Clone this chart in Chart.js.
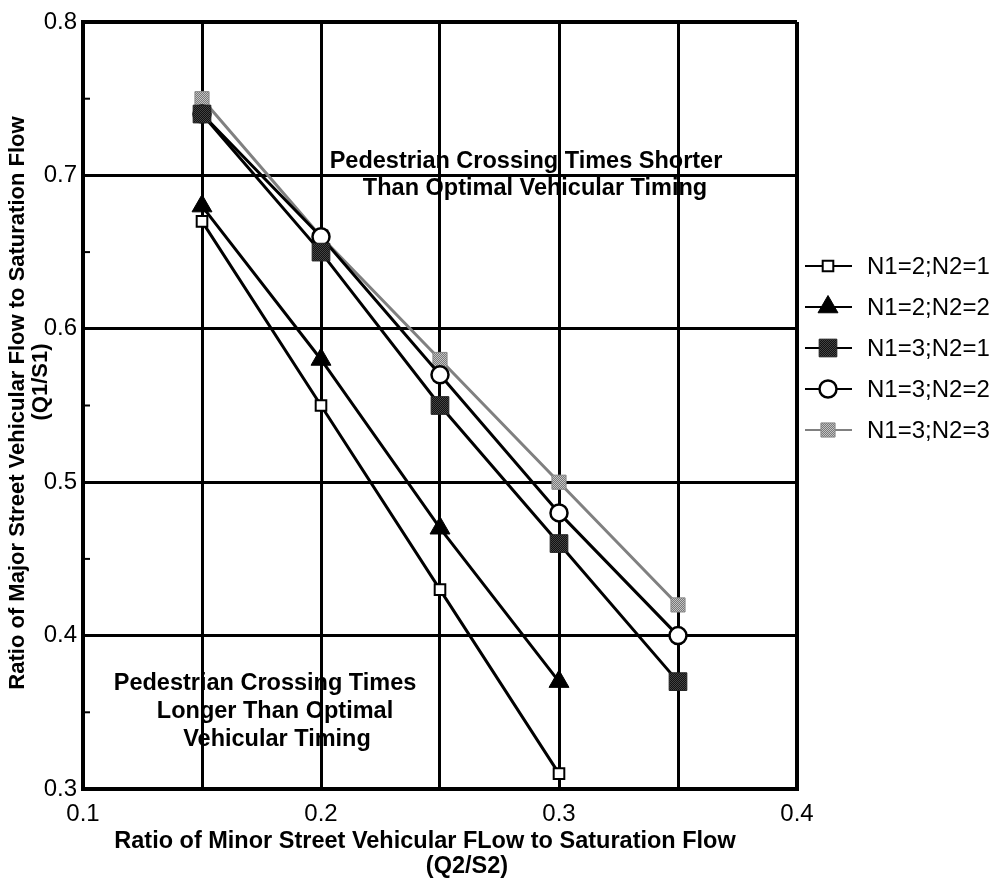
<!DOCTYPE html>
<html><head><meta charset="utf-8">
<script src="https://cdn.jsdelivr.net/npm/chart.js@4/dist/chart.umd.min.js"></script>
<style>html,body{margin:0;padding:0;background:#fff;} #wrap{width:997px;height:882px;}</style>
</head><body><div id="wrap"><canvas id="c" width="997" height="882"></canvas></div>
<script>
const xValues = [0.15, 0.20, 0.25, 0.30, 0.35];
const seriesLabels = ['N1=2;N2=1', 'N1=2;N2=2', 'N1=3;N2=1', 'N1=3;N2=2', 'N1=3;N2=3'];
const s_N1_2_N2_1 = [0.67, 0.55, 0.43, 0.31, null];
const s_N1_2_N2_2 = [0.68, 0.58, 0.47, 0.37, null];
const s_N1_3_N2_1 = [0.74, 0.65, 0.55, 0.46, 0.37];
const s_N1_3_N2_2 = [0.74, 0.66, 0.57, 0.48, 0.40];
const s_N1_3_N2_3 = [0.75, 0.66, 0.58, 0.50, 0.42];
const xTickLabels = ['0.1', '0.2', '0.3', '0.4'];
const yTickLabels = ['0.3', '0.4', '0.5', '0.6', '0.7', '0.8'];
const xTitle = ['Ratio of Minor Street Vehicular FLow to Saturation Flow', '(Q2/S2)'];
const yTitle = ['Ratio of Major Street Vehicular Flow to Saturation Flow', '(Q1/S1)'];
const noteUpper = ['Pedestrian Crossing Times Shorter', 'Than Optimal Vehicular Timing'];
const noteLower = ['Pedestrian Crossing Times', 'Longer Than Optimal', 'Vehicular Timing'];

const FONT = '"Liberation Sans", Arial, Helvetica, sans-serif';
Chart.defaults.font.family = FONT;
Chart.defaults.color = '#000';

const canvas = document.getElementById('c');
const mainCtx = canvas.getContext('2d');
function hatch(c1, c2) {
  const p = document.createElement('canvas');
  p.width = 2; p.height = 2;
  const g = p.getContext('2d');
  g.fillStyle = c1; g.fillRect(0, 0, 2, 2);
  g.fillStyle = c2; g.fillRect(0, 0, 1, 1); g.fillRect(1, 1, 1, 1);
  return mainCtx.createPattern(p, 'repeat');
}
const darkFill = hatch('#111', '#444');
const grayFill = hatch('#777', '#c4c4c4');

function pts(arr) {
  return xValues.map((x, i) => ({ x: x, y: arr[i] })).filter(p => p.y !== null);
}
const styles = [
  { line: '#000', lw: 3, ps: 'rect', r: 7.5, bg: '#fff', bc: '#000', bw: 2 },
  { line: '#000', lw: 3, ps: 'triangle', r: 11.5, bg: '#000', bc: '#000', bw: 1 },
  { line: '#000', lw: 3, ps: 'rect', r: 12.5, bg: darkFill, bc: '#222', bw: 1 },
  { line: '#000', lw: 3, ps: 'circle', r: 8.5, bg: '#fff', bc: '#000', bw: 2.5 },
  { line: '#808080', lw: 3, ps: 'rect', r: 10, bg: grayFill, bc: '#888', bw: 1 }
];
const series = [s_N1_2_N2_1, s_N1_2_N2_2, s_N1_3_N2_1, s_N1_3_N2_2, s_N1_3_N2_3];
const datasets = series.map((s, i) => ({
  label: seriesLabels[i],
  data: pts(s),
  borderColor: styles[i].line,
  borderWidth: styles[i].lw,
  pointStyle: styles[i].ps,
  pointRadius: styles[i].r,
  pointBackgroundColor: styles[i].bg,
  pointBorderColor: styles[i].bc,
  pointBorderWidth: styles[i].bw,
  showLine: true,
  tension: 0,
  fill: false
}));

const isMajor = v => Math.round(v * 100) % 10 === 0;
function labelFor(v, list) {
  if (!isMajor(v)) return '';
  const s = (Math.round(v * 10) / 10).toFixed(1);
  return list.indexOf(s) >= 0 ? s : '';
}

const BOLD = 'bold 23.5px ' + FONT;
const extras = {
  id: 'extras',
  afterDraw(chart) {
    const ctx = chart.ctx;
    const ys = chart.scales.y;
    const area = chart.chartArea;
    ctx.save();
    // minor inward ticks on left axis
    ctx.strokeStyle = '#000';
    ctx.lineWidth = 2;
    ys.ticks.forEach(t => {
      if (!isMajor(t.value)) {
        const y = ys.getPixelForValue(t.value);
        ctx.beginPath();
        ctx.moveTo(area.left, y);
        ctx.lineTo(area.left + 7, y);
        ctx.stroke();
      }
    });
    // axis titles
    ctx.fillStyle = '#000';
    ctx.textAlign = 'center';
    ctx.textBaseline = 'middle';
    ctx.font = BOLD;
    ctx.fillText(xTitle[0], 425, 842);
    ctx.fillText(xTitle[1], 467, 867);
    ctx.font = 'bold 22px ' + FONT;
    ctx.save();
    ctx.translate(18, 403);
    ctx.rotate(-Math.PI / 2);
    ctx.fillText(yTitle[0], 0, 0);
    ctx.restore();
    ctx.save();
    ctx.translate(41, 382);
    ctx.rotate(-Math.PI / 2);
    ctx.fillText(yTitle[1], 0, 0);
    ctx.restore();
    // annotations
    ctx.font = BOLD;
    ctx.fillText(noteUpper[0], 526, 162);
    ctx.fillText(noteUpper[1], 535, 189);
    ctx.fillText(noteLower[0], 265, 684);
    ctx.fillText(noteLower[1], 275, 712);
    ctx.fillText(noteLower[2], 277, 740);
    // legend
    ctx.textAlign = 'left';
    ctx.font = '24px ' + FONT;
    chart.data.datasets.forEach((ds, i) => {
      const y = 266 + 41 * i;
      ctx.strokeStyle = ds.borderColor;
      ctx.lineWidth = 2;
      ctx.beginPath();
      ctx.moveTo(805, y);
      ctx.lineTo(852, y);
      ctx.stroke();
      ctx.fillStyle = ds.pointBackgroundColor;
      ctx.strokeStyle = ds.pointBorderColor;
      ctx.lineWidth = ds.pointBorderWidth;
      Chart.helpers.drawPoint(ctx, {
        pointStyle: ds.pointStyle, radius: ds.pointRadius,
        rotation: 0, borderWidth: ds.pointBorderWidth
      }, 828, y);
      ctx.fillStyle = '#000';
      ctx.fillText(ds.label, 867, y + 1);
    });
    ctx.restore();
  }
};

new Chart(canvas, {
  type: 'scatter',
  data: { datasets: datasets },
  options: {
    responsive: false,
    animation: false,
    devicePixelRatio: 1,
    events: [],
    layout: { padding: { top: 22, right: 200, left: 0, bottom: 0 } },
    plugins: { legend: { display: false }, tooltip: { enabled: false } },
    scales: {
      x: {
        type: 'linear', min: 0.1, max: 0.4,
        ticks: {
          stepSize: 0.05, autoSkip: false, maxRotation: 0,
          font: { size: 24 }, color: '#000', padding: 11,
          callback: v => labelFor(v, xTickLabels)
        },
        grid: {
          color: '#000', drawTicks: false,
          lineWidth: c => (Math.abs(c.tick.value - 0.4) < 1e-6 ? 4 : 3)
        },
        border: { display: true, color: '#000', width: 4 },
        afterFit: s => { s.height = 93; }
      },
      y: {
        type: 'linear', min: 0.3, max: 0.8,
        ticks: {
          stepSize: 0.05, autoSkip: false,
          font: { size: 24 }, color: '#000', padding: 6,
          callback: v => labelFor(v, yTickLabels)
        },
        grid: {
          drawTicks: false,
          color: c => (isMajor(c.tick.value) ? '#000' : 'rgba(0,0,0,0)'),
          lineWidth: c => (Math.abs(c.tick.value - 0.8) < 1e-6 ? 4 : 3)
        },
        border: { display: true, color: '#000', width: 4 },
        afterFit: s => { s.width = 83; }
      }
    }
  },
  plugins: [extras]
});
</script>
</body></html>
